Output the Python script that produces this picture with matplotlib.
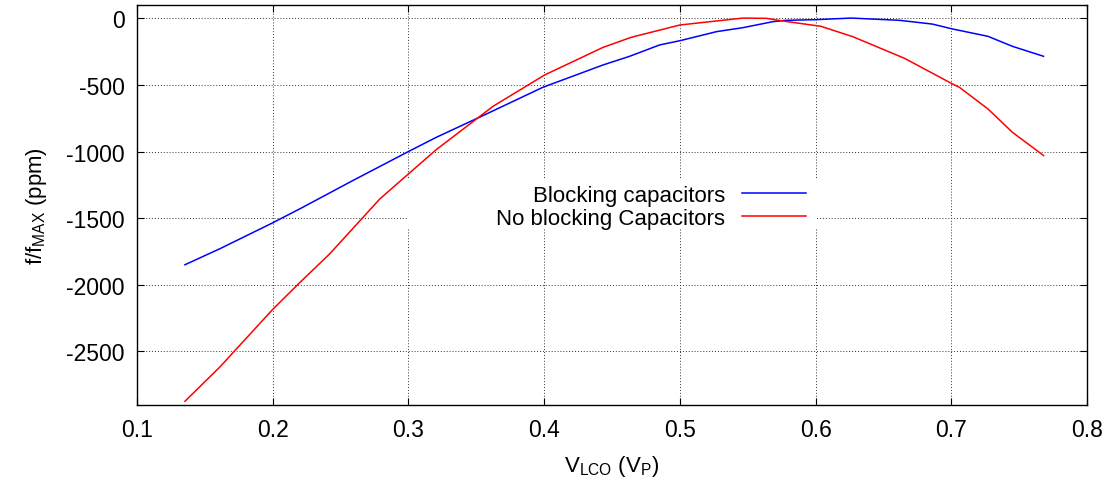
import matplotlib
matplotlib.use("Agg")
import matplotlib.pyplot as plt
from matplotlib.patches import Rectangle

plt.rcParams['font.family'] = ['Liberation Sans', 'DejaVu Sans']
plt.rcParams['mathtext.default'] = 'regular'
plt.rcParams['axes.unicode_minus'] = False

# Blocking capacitors (blue)
x_block = [0.1353, 0.161, 0.2, 0.22, 0.259, 0.3, 0.3206, 0.355, 0.399, 0.4434,
           0.463, 0.485, 0.5, 0.527, 0.5465, 0.5686, 0.578, 0.6, 0.6263, 0.662,
           0.686, 0.701, 0.727, 0.745, 0.768]
y_block = [-1850, -1730, -1535, -1430, -1218, -1000, -893, -730, -518, -350,
           -285, -200, -168, -100, -70, -25, -15, -10, 2, -15,
           -43, -80, -135, -210, -285]

# No blocking capacitors (red)
x_noblock = [0.1353, 0.161, 0.2, 0.219, 0.242, 0.279, 0.3, 0.3206, 0.3624, 0.4004,
             0.4434, 0.464, 0.5, 0.5465, 0.5637, 0.578, 0.604, 0.6275, 0.6655, 0.701,
             0.706, 0.727, 0.745, 0.768]
y_noblock = [-2875, -2618, -2185, -1993, -1768, -1355, -1168, -985, -660, -425,
             -218, -143, -50, 2, 0, -23, -60, -138, -300, -493,
             -518, -680, -855, -1030]

labels = ['Blocking capacitors', 'No blocking Capacitors']

fig = plt.figure(figsize=(11.06, 4.85), dpi=100)
ax = fig.add_axes([0.1239, 0.1637, 0.8589, 0.8239])

ax.plot(x_block, y_block, color='#0000ff', lw=1.1, label=labels[0], zorder=3)
ax.plot(x_noblock, y_noblock, color='#ff0000', lw=1.1, label=labels[1], zorder=3)

ax.set_xlim(0.1, 0.8)
ax.set_ylim(-2900, 100)
ax.set_xticks([0.1, 0.2, 0.3, 0.4, 0.5, 0.6, 0.7, 0.8])
ax.set_yticks([0, -500, -1000, -1500, -2000, -2500])

ax.grid(True, color='#333333', lw=0.7, linestyle=(0, (1, 2)), zorder=1)
ax.tick_params(direction='in', length=5, width=0.8, top=True, right=True,
               labelsize=16.5)
ax.tick_params(axis='y', pad=9)
ax.tick_params(axis='x', pad=10)
for s in ax.spines.values():
    s.set_linewidth(1.0)

# key box (white, covers grid)
ax.add_patch(Rectangle((0.2853, 0.4396), 0.4305, 0.125, transform=ax.transAxes,
                       facecolor='white', edgecolor='none', zorder=2))
ax.legend(loc='upper right', bbox_to_anchor=(0.716, 0.578), frameon=False,
          markerfirst=False, fontsize=16, handlelength=2.9, handletextpad=0.75,
          labelspacing=0.1, borderpad=0.5, borderaxespad=0)

ax.set_xlabel('V$_{LCO}$ (V$_{P}$)', fontsize=16, labelpad=8)
ax.set_ylabel('f/f$_{MAX}$ (ppm)', fontsize=16, labelpad=12)

fig.savefig('out.png', dpi=100)
